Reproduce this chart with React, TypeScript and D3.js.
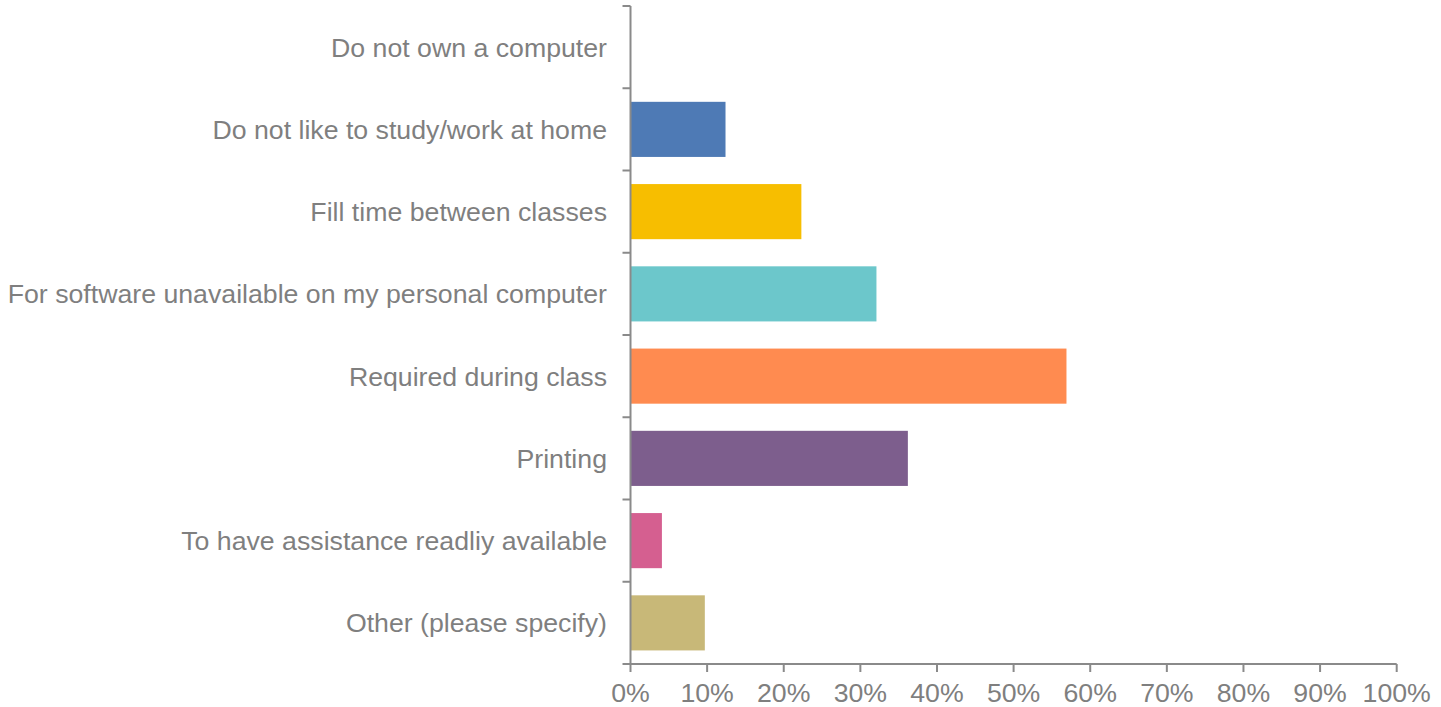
import React, { useEffect, useRef } from "react";
import * as d3 from "d3";

const categories = [
  "Do not own a computer",
  "Do not like to study/work at home",
  "Fill time between classes",
  "For software unavailable on my personal computer",
  "Required during class",
  "Printing",
  "To have assistance readliy available",
  "Other (please specify)",
];
const values = [0, 12.4, 22.3, 32.1, 56.9, 36.2, 4.1, 9.7];
const colors = ["#4e7ab5", "#4e7ab5", "#f7be00", "#6cc7cb", "#ff8b50", "#7d5e8d", "#d55f90", "#c8b878"];
const xTicks = [0, 10, 20, 30, 40, 50, 60, 70, 80, 90, 100];

const W = 1441;
const H = 707;
const left = 630.5;
const right = 1396.7;
const top = 6;
const bottom = 664;
const axisColor = "#8a8a8a";
const textColor = "#7f7f7f";
const font = "'Liberation Sans', Arial, sans-serif";
const fontSize = 26.7;

export default function App() {
  const ref = useRef<SVGSVGElement>(null);
  useEffect(() => {
    const svg = d3.select(ref.current);
    svg.selectAll("*").remove();
    const x = d3.scaleLinear().domain([0, 100]).range([left, right]);
    const y = d3.scaleBand<string>().domain(categories).range([top, bottom]).paddingInner(0.33).paddingOuter(0.165);
    const step = y.step();

    svg.append("g")
      .selectAll("rect")
      .data(categories)
      .join("rect")
      .attr("x", x(0))
      .attr("y", (d) => y(d)!)
      .attr("width", (d, i) => x(values[i]) - x(0))
      .attr("height", y.bandwidth())
      .attr("fill", (d, i) => colors[i]);

    const g = svg.append("g").attr("stroke", axisColor).attr("stroke-width", 2).attr("fill", "none");
    g.append("line").attr("x1", left).attr("x2", left).attr("y1", top).attr("y2", bottom);
    const yTickPos = d3.range(categories.length + 1).map((i) => top + i * step);
    g.selectAll("line.yt")
      .data(yTickPos)
      .join("line")
      .attr("class", "yt")
      .attr("x1", left - 8)
      .attr("x2", left)
      .attr("y1", (d) => d)
      .attr("y2", (d) => d);
    g.append("line").attr("x1", left).attr("x2", right).attr("y1", bottom).attr("y2", bottom);
    g.selectAll("line.xt")
      .data(xTicks)
      .join("line")
      .attr("class", "xt")
      .attr("x1", (d) => x(d))
      .attr("x2", (d) => x(d))
      .attr("y1", bottom)
      .attr("y2", bottom + 8);

    svg.append("g")
      .selectAll("text")
      .data(xTicks)
      .join("text")
      .attr("x", (d) => x(d))
      .attr("y", 701.5)
      .attr("text-anchor", "middle")
      .attr("font-family", font)
      .attr("font-size", fontSize)
      .attr("fill", textColor)
      .text((d) => `${d}%`);

    svg.append("g")
      .selectAll("text")
      .data(categories)
      .join("text")
      .attr("x", 607)
      .attr("y", (d) => y(d)! + y.bandwidth() / 2 + 9.5)
      .attr("text-anchor", "end")
      .attr("font-family", font)
      .attr("font-size", fontSize)
      .attr("fill", textColor)
      .text((d) => d);
  }, []);
  return (
    <svg
      ref={ref}
      width={W}
      height={H}
      style={{ position: "absolute", left: 0, top: 0, background: "#fff" }}
    />
  );
}
